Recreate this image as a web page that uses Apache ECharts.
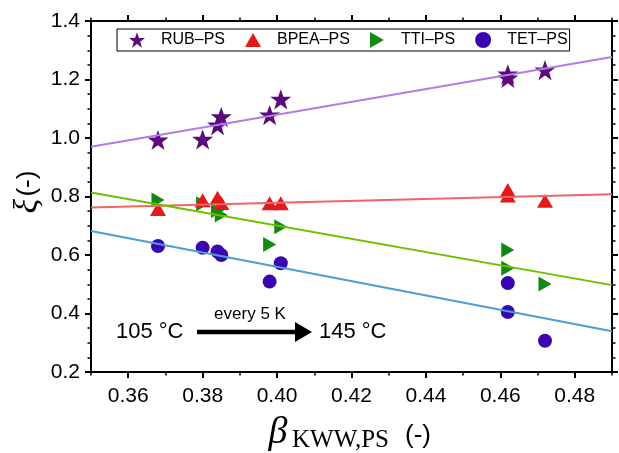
<!DOCTYPE html>
<html><head><meta charset="utf-8">
<script src="https://cdn.jsdelivr.net/npm/echarts@6/dist/echarts.min.js"></script>
<style>html,body{margin:0;padding:0;background:#fff}#c{width:619px;height:453px}</style>
</head><body><div id="c"></div>
<script>
// ---- data ----
const seriesNames = ['RUB–PS', 'BPEA–PS', 'TTI–PS', 'TET–PS'];
const beta = [0.368, 0.380, 0.384, 0.385, 0.398, 0.401, 0.462, 0.462, 0.472];
const rub  = [0.993, 0.995, 1.044, 1.072, 1.078, 1.132, 1.218, 1.205, 1.232];
const bpea = [0.757, 0.787, 0.796, 0.778, 0.777, 0.777, 0.822, 0.803, 0.785];
const tti  = [0.788, 0.775, 0.752, 0.737, 0.636, 0.697, 0.617, 0.555, 0.501];
const tet  = [0.631, 0.625, 0.612, 0.600, 0.509, 0.572, 0.504, 0.405, 0.307];
const fitX    = [0.35, 0.49];
const rubFit  = [0.970, 1.277];
const bpeaFit = [0.762, 0.808];
const ttiFit  = [0.814, 0.497];
const tetFit  = [0.682, 0.339];
const xTicks = [0.36, 0.38, 0.40, 0.42, 0.44, 0.46, 0.48];
const xMinorTicks = [0.35, 0.37, 0.39, 0.41, 0.43, 0.45, 0.47, 0.49];
const yTicks = [0.2, 0.4, 0.6, 0.8, 1.0, 1.2, 1.4];

const markerColors = ['#5c0a7c', '#e31a1c', '#108a10', '#3a06b0'];
const lineColors = ['#b07ee4', '#f06464', '#6cc000', '#4a9ed6'];

const SANS = 'Liberation Sans, Arial, sans-serif';
const SERIF = 'Liberation Serif, Times New Roman, serif';
const STAR = 'path://M50,2 L62,36 L98,36 L69,58 L80,94 L50,72 L20,94 L31,58 L2,36 L38,36 Z';
const TRI_UP = 'path://M50,0 L100,87 L0,87 Z';
const TRI_RIGHT = 'path://M0,0 L87,50 L0,100 Z';

const zip = (xs, ys) => xs.map((x, i) => [x, ys[i]]);

const chart = echarts.init(document.getElementById('c'), null, {renderer: 'canvas'});

const axLine = {show: true, lineStyle: {color: '#000', width: 2}};
const tickStyle = {color: '#000', width: 2};
const minorStyle = {color: '#000', width: 1.5};

function xAx(pos, values, len, labels) {
  return {
    type: 'value', position: pos, min: 0.35, max: 0.49, gridIndex: 0,
    axisLine: axLine,
    axisTick: {show: true, customValues: values, length: len, inside: false, lineStyle: len > 4 ? tickStyle : minorStyle},
    axisLabel: labels ? {show: true, customValues: values, formatter: v => v.toFixed(2), fontSize: 21, color: '#000', margin: 14, fontFamily: SANS}
                      : {show: false},
    splitLine: {show: false}
  };
}
function yAx(pos, labels) {
  return {
    type: 'value', position: pos, min: yTicks[0], max: yTicks[yTicks.length - 1], interval: 0.2,
    axisLine: axLine,
    axisTick: {show: true, length: 6, inside: false, lineStyle: tickStyle},
    minorTick: {show: true, splitNumber: 4, length: 3.5, lineStyle: minorStyle},
    axisLabel: labels ? {show: true, formatter: v => v.toFixed(1), fontSize: 21, color: '#000', margin: 11, fontFamily: SANS}
                      : {show: false},
    splitLine: {show: false}, minorSplitLine: {show: false}
  };
}

const scatterDefs = [
  {name: seriesNames[0], data: rub, symbol: STAR, size: 21, z: 3},
  {name: seriesNames[1], data: bpea, symbol: TRI_UP, size: 16, z: 5},
  {name: seriesNames[2], data: tti, symbol: TRI_RIGHT, size: 15, z: 4},
  {name: seriesNames[3], data: tet, symbol: 'circle', size: 14, z: 3}
];
const fits = [rubFit, bpeaFit, ttiFit, tetFit];

const series = [];
scatterDefs.forEach((d, i) => {
  series.push({
    type: 'scatter', name: d.name, xAxisIndex: 0, yAxisIndex: 0,
    data: zip(beta, d.data), symbol: d.symbol, symbolSize: d.size,
    symbolKeepAspect: true,
    itemStyle: {color: markerColors[i], opacity: 1}, z: d.z, silent: true
  });
});
fits.forEach((f, i) => {
  series.push({
    type: 'line', name: 'fit' + i, xAxisIndex: 0, yAxisIndex: 0,
    data: zip(fitX, f), showSymbol: false, symbol: 'none',
    lineStyle: {color: lineColors[i], width: 2}, z: 10, silent: true
  });
});

chart.setOption({
  animation: false,
  backgroundColor: '#fff',
  grid: {left: 91, right: 7, top: 21, bottom: 81, containLabel: false},
  xAxis: [
    xAx('bottom', xTicks, 6, true),
    xAx('bottom', xMinorTicks, 3.5, false),
    xAx('top', xTicks, 6, false),
    xAx('top', xMinorTicks, 3.5, false)
  ],
  yAxis: [yAx('left', true), yAx('right', false)],
  legend: {
    data: seriesNames.map((n, i) => ({name: n, icon: scatterDefs[i].symbol})),
    left: 117, top: 29, orient: 'horizontal',
    itemWidth: 16, itemHeight: 16, itemGap: 20, symbolKeepAspect: true,
    padding: [3, 2, 3, 12], borderColor: '#000', borderWidth: 1, borderRadius: 0,
    textStyle: {fontSize: 16, color: '#000', fontFamily: SANS, padding: [0, 0, 0, 11]},
    selectedMode: false
  },
  graphic: [
    {type: 'text', x: 278, y: 433, style: {text: 'β', font: 'italic 38px ' + SERIF, fill: '#000', align: 'center', verticalAlign: 'middle'}},
    {type: 'text', x: 292, y: 440, style: {text: 'KWW,PS', font: '25px ' + SERIF, fill: '#000', align: 'left', verticalAlign: 'middle'}},
    {type: 'text', x: 405, y: 436, style: {text: '(-)', font: '26px ' + SANS, fill: '#000', align: 'left', verticalAlign: 'middle'}},
    {type: 'group', x: 28, y: 192, rotation: Math.PI / 2, children: [
      {type: 'text', x: 0, y: 0, style: {text: '{g|ξ}{sp| }{s|(-)}', rich: {g: {font: 'italic 34px ' + SERIF, fill: '#000'}, sp: {font: '8px ' + SANS}, s: {font: '26px ' + SANS, fill: '#000'}}, align: 'center', verticalAlign: 'middle'}}
    ]},
    {type: 'text', x: 116, y: 332, style: {text: '105 °C', font: '22px ' + SANS, fill: '#000', align: 'left', verticalAlign: 'middle'}},
    {type: 'text', x: 319, y: 332, style: {text: '145 °C', font: '22px ' + SANS, fill: '#000', align: 'left', verticalAlign: 'middle'}},
    {type: 'text', x: 250, y: 314, style: {text: 'every 5 K', font: '17px ' + SANS, fill: '#000', align: 'center', verticalAlign: 'middle'}},
    {type: 'line', shape: {x1: 197, y1: 332, x2: 298, y2: 332}, style: {stroke: '#000', lineWidth: 4.5}},
    {type: 'polygon', shape: {points: [[295, 322], [312, 332], [295, 342]]}, style: {fill: '#000'}}
  ],
  series: series
});
</script>
</body></html>
